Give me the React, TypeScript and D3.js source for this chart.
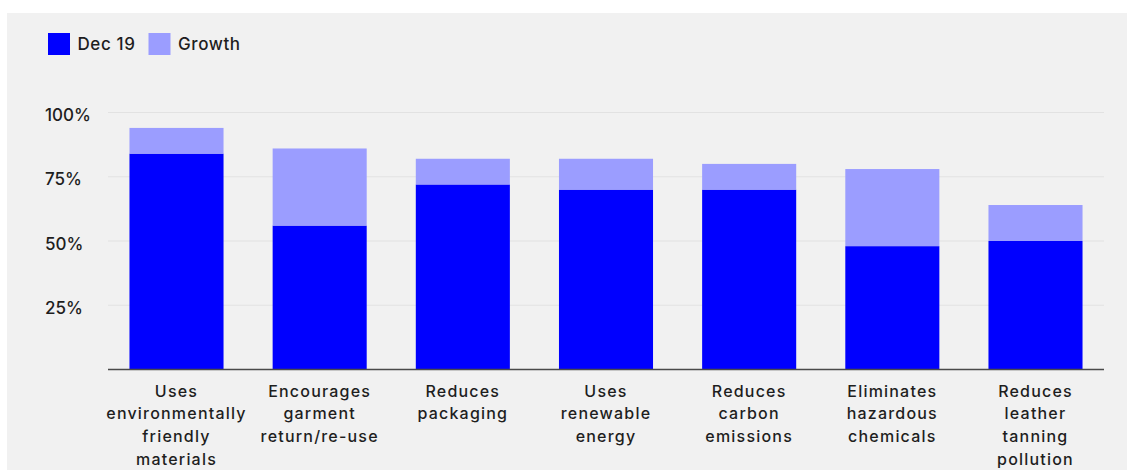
import React from "react";
import * as d3 from "d3";

// Share of consumers rating each sustainability practice as important
const categories: string[][] = [
  ["Uses", "environmentally", "friendly", "materials"],
  ["Encourages", "garment", "return/re-use"],
  ["Reduces", "packaging"],
  ["Uses", "renewable", "energy"],
  ["Reduces", "carbon", "emissions"],
  ["Eliminates", "hazardous", "chemicals"],
  ["Reduces", "leather", "tanning", "pollution"],
];
const dec19: number[] = [84, 56, 72, 70, 70, 48, 50];
const growth: number[] = [10, 30, 10, 12, 10, 30, 14];
const yTicks: number[] = [25, 50, 75, 100];
const seriesNames: string[] = ["Dec 19", "Growth"];

const W = 1127;
const H = 470;
const FONT = "Inter, 'Noto Sans', sans-serif";
const DARK = "#0000ff";
const LIGHT = "#9b9dff";
const TEXT = "#1e1e1e";

export default function App() {
  const keys = categories.map((c) => c.join(" "));
  const x = d3
    .scaleBand<string>()
    .domain(keys)
    .range([108, 1104])
    .paddingInner(0.343)
    .paddingOuter(0.15);
  const y = d3.scaleLinear().domain([0, 100]).range([369.5, 112.5]);

  const rows = keys.map((k, i) => ({ key: k, dec: dec19[i], growth: growth[i] }));
  const stacked = d3.stack<any>().keys(["dec", "growth"])(rows);
  const colors = [DARK, LIGHT];

  return (
    <svg
      width={W}
      height={H}
      style={{ position: "absolute", left: 0, top: 0, background: "#ffffff" }}
      fontFamily={FONT}
    >
      <rect x={7} y={13} width={W - 7} height={H - 13} fill="#f1f1f1" />

      {/* legend */}
      <g>
        {seriesNames.map((name, i) => {
          const lx = i === 0 ? 48 : 148.5;
          return (
            <g key={name} transform={`translate(${lx},33)`}>
              <rect width={22} height={22} fill={colors[i]} />
              <text
                x={29.5}
                y={17.3}
                fontSize={17}
                fontWeight={500}
                letterSpacing={0.6}
                fill={TEXT}
              >
                {name}
              </text>
            </g>
          );
        })}
      </g>

      {/* gridlines and y labels */}
      {yTicks.map((t) => (
        <g key={t}>
          <line x1={108} x2={1104} y1={y(t)} y2={y(t)} stroke="#e2e2e2" strokeWidth={1.2} />
          <text x={45} y={y(t) + 8.5} fontSize={17} fontWeight={500} fill={TEXT}>
            {t}%
          </text>
        </g>
      ))}

      {/* stacked bars */}
      {stacked.map((layer, li) => (
        <g key={layer.key} fill={colors[li]}>
          {layer.map((d: any, i: number) => (
            <rect
              key={i}
              x={x(keys[i])}
              y={y(d[1])}
              width={x.bandwidth()}
              height={y(d[0]) - y(d[1])}
            />
          ))}
        </g>
      ))}

      {/* baseline */}
      <line x1={108} x2={1104} y1={y(0)} y2={y(0)} stroke="#4a4a4a" strokeWidth={1.6} />

      {/* category labels */}
      {categories.map((lines, i) => (
        <text
          key={i}
          x={(x(keys[i]) as number) + x.bandwidth() / 2}
          y={396.5}
          textAnchor="middle"
          fontSize={16}
          fontWeight={500}
          letterSpacing={1.2}
          fill={TEXT}
        >
          {lines.map((ln, j) => (
            <tspan key={j} x={(x(keys[i]) as number) + x.bandwidth() / 2} dy={j === 0 ? 0 : 22.7}>
              {ln}
            </tspan>
          ))}
        </text>
      ))}
    </svg>
  );
}
